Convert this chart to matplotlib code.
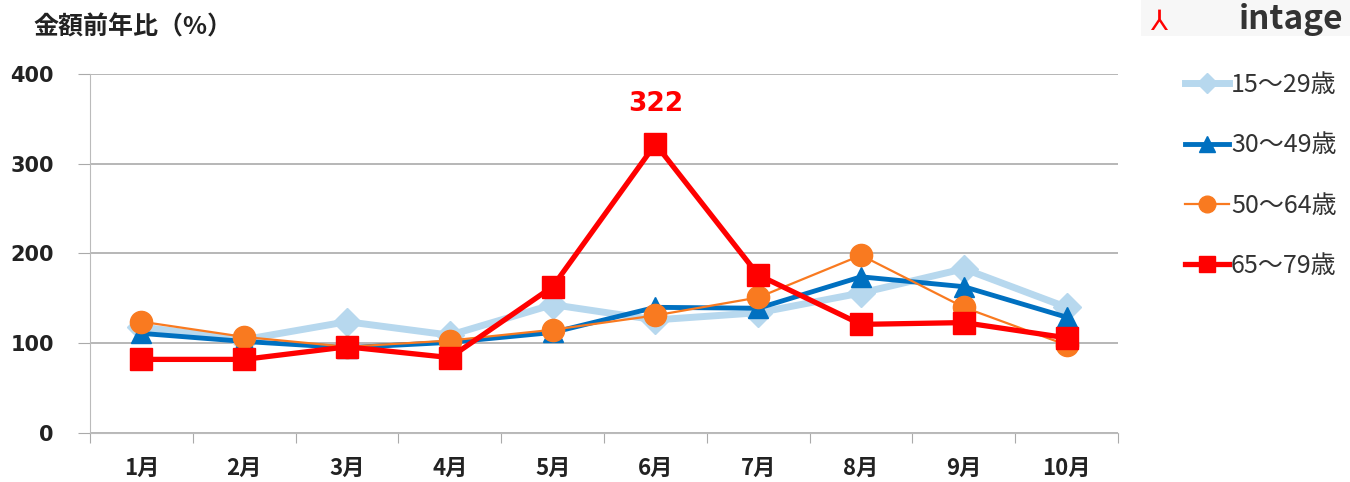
import matplotlib.pyplot as plt
from matplotlib.patches import Rectangle

plt.rcParams['font.family'] = ['Noto Sans CJK JP', 'DejaVu Sans']

months = ["1月", "2月", "3月", "4月", "5月", "6月", "7月", "8月", "9月", "10月"]
age_15_29 = [118, 104, 124, 109, 143, 126, 134, 156, 183, 140]
age_30_49 = [111, 102, 95, 101, 112, 140, 139, 174, 163, 129]
age_50_64 = [124, 107, 96, 103, 115, 131, 151, 198, 140, 98]
age_65_79 = [82, 82, 96, 84, 163, 322, 176, 121, 123, 106]
labels = ["15～29歳", "30～49歳", "50～64歳", "65～79歳"]

fig = plt.figure(figsize=(13.5, 4.82), dpi=100)
ax = fig.add_axes([0.0667, 0.1017, 0.7615, 0.7448])

x = range(len(months))
ax.plot(x, age_15_29, color="#B7D8EE", lw=5, marker="D", ms=14, label=labels[0], zorder=3)
ax.plot(x, age_30_49, color="#0070C0", lw=3.5, marker="^", ms=15, label=labels[1], zorder=4)
ax.plot(x, age_50_64, color="#F97A20", lw=1.6, marker="o", ms=16, label=labels[2], zorder=5)
ax.plot(x, age_65_79, color="#FF0000", lw=3.8, marker="s", ms=16, label=labels[3], zorder=6)

ax.annotate(str(age_65_79[5]), (5, age_65_79[5]), xytext=(0, 28.5), textcoords="offset points",
            ha="center", va="center", color="#FF0000", fontsize=19, fontweight="bold",
            family="DejaVu Sans")

ax.set_xlim(-0.5, len(months) - 0.5)
ax.set_ylim(0, 400)
ax.set_yticks([0, 100, 200, 300, 400])
ax.set_xticks([i + 0.5 for i in range(-1, len(months))])
ax.set_xticklabels([])
ax.set_xticks(list(x), minor=True)
ax.set_xticklabels(months, minor=True, fontsize=16, fontweight="bold", color="#222222")
ax.tick_params(axis="x", which="minor", length=0, pad=17)
ax.tick_params(axis="x", which="major", length=7, color="#AAAAAA", direction="out")
ax.tick_params(axis="y", length=9, color="#AAAAAA", labelcolor="#222222", pad=17)
for t in ax.get_yticklabels():
    t.set_fontweight("bold")
    t.set_fontsize(15)
    t.set_family("DejaVu Sans")

ax.grid(axis="y", color="#AAAAAA", lw=1.2)
ax.set_axisbelow(True)
for s in ["top", "right"]:
    ax.spines[s].set_visible(False)
ax.spines["left"].set_color("#BBBBBB")
ax.spines["bottom"].set_color("#BBBBBB")

fig.text(0.025, 0.943, "金額前年比（%）", fontsize=18, fontweight="bold", color="#222222", va="center")

leg = fig.legend(loc="upper left", bbox_to_anchor=(0.861, 0.897), frameon=False,
                 fontsize=18, labelspacing=1.37, handlelength=1.75, handletextpad=0.1,
                 markerscale=0.75)
for t in leg.get_texts():
    t.set_color("#333333")

# logo at top right
fig.patches.append(Rectangle((0.845, 0.925), 0.155, 0.075, transform=fig.transFigure,
                             facecolor="#F7F7F7", edgecolor="none"))
fig.text(0.995, 0.96, "intage", fontsize=24, fontweight="bold", color="#333333",
         va="center", ha="right")
fig.text(0.852, 0.955, "⅄", fontsize=20, color="#FF0000", va="center", ha="left")

fig.savefig("out.png", dpi=100)
